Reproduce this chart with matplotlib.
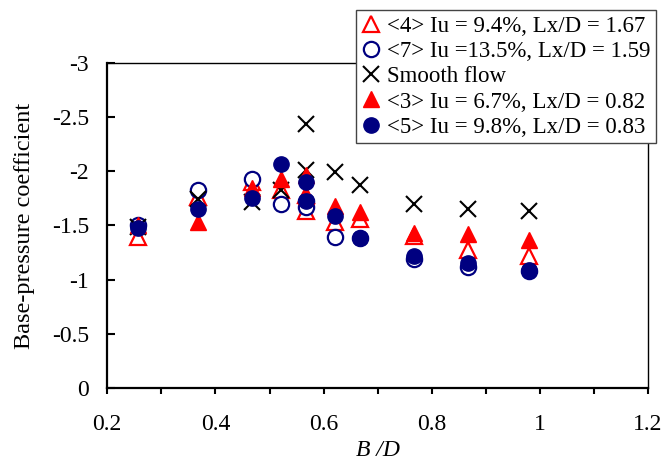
import matplotlib
matplotlib.use("Agg")
import matplotlib.pyplot as plt

plt.rcParams['font.family'] = ['Liberation Serif', 'DejaVu Serif']
plt.rcParams['axes.unicode_minus'] = False

# B/D positions (two runs at 0.567)
bd = [0.256, 0.367, 0.467, 0.522, 0.567, 0.567, 0.622, 0.667, 0.767, 0.867, 0.98]

cp_4 = [-1.39, -1.76, -1.90, -1.83, -1.78, -1.63, -1.53, -1.56, -1.40, -1.27, -1.22]
cp_7 = [-1.50, -1.83, -1.93, -1.70, -1.73, -1.67, -1.39, -1.38, -1.19, -1.12, -1.08]
cp_smooth = [-1.49, -1.74, -1.72, -1.83, -2.44, -2.01, -1.99, -1.87, -1.70, -1.65, -1.63]
cp_3 = [-1.50, -1.53, -1.85, -1.93, -1.97, -1.77, -1.68, -1.62, -1.43, -1.42, -1.37]
cp_5 = [-1.48, -1.65, -1.75, -2.07, -1.90, -1.73, -1.59, -1.38, -1.22, -1.15, -1.09]

labels = ['<4> Iu = 9.4%, Lx/D = 1.67',
          '<7> Iu =13.5%, Lx/D = 1.59',
          'Smooth flow',
          '<3> Iu = 6.7%, Lx/D = 0.82',
          '<5> Iu = 9.8%, Lx/D = 0.83']

x_ticks = [0.2, 0.4, 0.6, 0.8, 1.0, 1.2]
x_ticklabels = ['0.2', '0.4', '0.6', '0.8', '1', '1.2']
y_ticks = [0, -0.5, -1, -1.5, -2, -2.5, -3]
y_ticklabels = ['0', '-0.5', '-1', '-1.5', '-2', '-2.5', '-3']

red = '#FF0000'
navy = '#000080'

fig = plt.figure(figsize=(6.62, 4.65), dpi=100)
ax = fig.add_axes([0.162, 0.1656, 0.817, 0.699])

ms = 11
ax.plot(bd, cp_4, ls='none', marker='^', ms=ms, mfc='white', mec=red, mew=1.6, label=labels[0])
ax.plot(bd, cp_7, ls='none', marker='o', ms=ms, mfc='white', mec=navy, mew=1.6, label=labels[1])
ax.plot(bd, cp_smooth, ls='none', marker='x', ms=ms, mec='black', mew=1.5, label=labels[2])
ax.plot(bd, cp_3, ls='none', marker='^', ms=ms, mfc=red, mec=red, label=labels[3])
ax.plot(bd, cp_5, ls='none', marker='o', ms=ms, mfc=navy, mec=navy, label=labels[4])

ax.set_xlim(0.2, 1.2)
ax.set_ylim(0, -3)
ax.set_xticks(x_ticks)
ax.set_xticklabels(x_ticklabels)
ax.set_xticks([0.3, 0.5, 0.7, 0.9, 1.1], minor=True)
ax.set_yticks(y_ticks)
ax.set_yticklabels(y_ticklabels)

ax.tick_params(axis='x', which='both', direction='out', length=4.5, width=1.5, labelsize=17, pad=14)
ax.tick_params(axis='y', direction='in', length=6, width=1.5, labelsize=17, pad=13)

for side in ['left', 'bottom']:
    ax.spines[side].set_linewidth(1.6)
for side in ['top', 'right']:
    ax.spines[side].set_linewidth(1.0)

ax.set_xlabel('B /D', fontsize=17, style='italic', labelpad=4)
ax.set_ylabel('Base-pressure coefficient', fontsize=17.5, labelpad=12)

leg = fig.legend(loc='upper left', bbox_to_anchor=(0.538, 0.978), fontsize=16.5,
                 frameon=True, fancybox=False, edgecolor='#444444', framealpha=1,
                 handlelength=0.8, handletextpad=0.3, borderpad=0.25,
                 labelspacing=0.18, borderaxespad=0)
leg.get_frame().set_linewidth(1.0)

fig.savefig('out.png', dpi=100)
